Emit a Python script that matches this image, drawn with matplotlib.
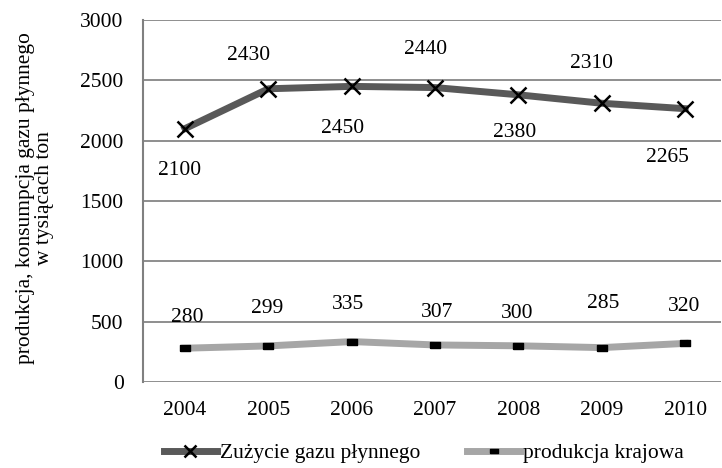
import numpy as np
import matplotlib
matplotlib.use('Agg')
from matplotlib import pyplot as plt

years = ['2004', '2005', '2006', '2007', '2008', '2009', '2010']
zuzycie = [2100, 2430, 2450, 2440, 2380, 2310, 2265]
produkcja = [280, 299, 335, 307, 300, 285, 320]
yticks = [0, 500, 1000, 1500, 2000, 2500, 3000]

# label offsets in pixels (dx, dy)
off_zuz = [(-5, -42), (-20, 33), (-9, -42), (-10, 38), (-4, -38), (-10, 40), (-18, -49)]
off_prod = [(2, 31), (-1, 37), (-4, 37), (2, 32), (-1, 32), (1, 44), (-1, 37)]

plt.rcParams['font.family'] = ['Liberation Serif', 'DejaVu Serif']
fs = 15.5

fig = plt.figure(figsize=(7.22, 4.68), dpi=100)
W, H = 722, 468
ax = fig.add_axes([143 / W, 1 - 382 / H, (721 - 143) / W, (382 - 20) / H])

x = np.arange(len(years))
dark = '#595959'
light = '#a6a6a6'
rect = [(-1.6, -1), (1.6, -1), (1.6, 1), (-1.6, 1), (-1.6, -1)]

ax.plot(x, zuzycie, color=dark, lw=5, marker='x', ms=11, mec='black', mew=1.8,
        label='Zużycie gazu płynnego', zorder=3)
ax.plot(x, produkcja, color=light, lw=5, marker=rect, ms=7, mfc='black', mec='black',
        label='produkcja krajowa', zorder=3)

for i in range(len(x)):
    ax.annotate(str(zuzycie[i]), (x[i], zuzycie[i]), xytext=off_zuz[i],
                textcoords='offset pixels', ha='center', va='center', fontsize=fs)
    ax.annotate(str(produkcja[i]), (x[i], produkcja[i]), xytext=off_prod[i],
                textcoords='offset pixels', ha='center', va='center', fontsize=fs)

ax.set_ylim(0, 3000)
ax.set_xlim(-0.504, 6.43)
ax.set_yticks(yticks)
ax.set_xticks(x)
ax.set_xticklabels(years)
ax.tick_params(axis='both', length=0, labelsize=fs)
ax.tick_params(axis='y', pad=14)
ax.tick_params(axis='x', pad=14)
ax.grid(axis='y', color='#868686', lw=1.3)
ax.set_axisbelow(True)
for s in ['top', 'right', 'bottom']:
    ax.spines[s].set_visible(False)
ax.spines['left'].set_color('#808080')
ax.spines['left'].set_linewidth(1.5)

fig.text(35 / W, 1 - 198 / H, 'produkcja, konsumpcja gazu płynnego\nw tysiącach ton',
         rotation=90, ha='center', va='center', multialignment='center',
         fontsize=fs, linespacing=1.07)

leg = fig.legend(loc='center', bbox_to_anchor=(424 / W, 1 - 453 / H), ncol=2, frameon=False,
                 fontsize=fs, handlelength=2.45, handletextpad=0.15, columnspacing=2.2,
                 markerscale=0.8)

fig.savefig('out.png', dpi=100)
